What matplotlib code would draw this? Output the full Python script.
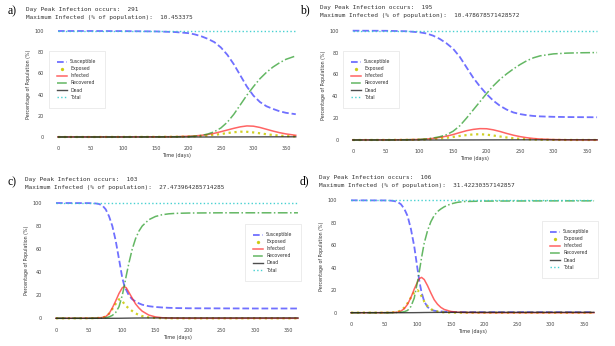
import matplotlib
matplotlib.use("Agg")
import matplotlib.pyplot as plt
from matplotlib.lines import Line2D

# ---- data (percent of population) ----
days_a = [0, 50, 100, 150, 180, 200, 210, 220, 230, 240, 250, 260, 270, 280, 290, 300, 310, 320, 330, 340, 350, 365]
S_a = [100, 100, 99.9, 99.6, 99.0, 98.0, 96.8, 95.0, 92.6, 89.5, 84.5, 77.5, 68.5, 58.0, 47.5, 39.0, 33.0, 29.0, 26.5, 24.3, 22.8, 21.5]
E_a = [0, 0, 0.05, 0.1, 0.2, 0.4, 0.6, 0.9, 1.4, 2.0, 2.8, 3.7, 4.5, 5.0, 4.9, 4.3, 3.5, 2.6, 1.9, 1.3, 0.9, 0.5]
I_a = [0.1, 0.1, 0.1, 0.2, 0.3, 0.7, 1.0, 1.6, 2.4, 3.5, 5.0, 6.6, 8.2, 9.6, 10.45, 10.2, 9.0, 7.3, 5.6, 4.1, 2.9, 1.6]
R_a = [0, 0, 0, 0.1, 0.2, 0.3, 0.8, 1.5, 2.8, 5.0, 8.5, 14.0, 21.5, 30.5, 39.5, 47.5, 55.0, 61.0, 66.0, 70.0, 73.3, 76.5]
D_a = [0, 0, 0, 0, 0, 0, 0, 0, 0, 0.02, 0.03, 0.05, 0.06, 0.08, 0.1, 0.12, 0.13, 0.15, 0.16, 0.17, 0.18, 0.18]

days_b = [0, 50, 80, 100, 110, 120, 130, 140, 150, 160, 170, 180, 190, 200, 210, 220, 230, 240, 250, 260, 270, 280, 300, 320, 340, 365]
S_b = [100, 99.9, 99.5, 98.5, 97.5, 95.5, 92.5, 88.5, 83.5, 76.0, 66.5, 57.0, 49.0, 42.0, 36.0, 31.3, 27.8, 25.2, 23.7, 22.7, 22.0, 21.6, 21.2, 21.0, 20.9, 20.8]
E_b = [0, 0.05, 0.15, 0.3, 0.55, 0.9, 1.4, 2.0, 2.8, 3.7, 4.5, 5.1, 5.3, 4.9, 4.1, 3.2, 2.3, 1.6, 1.1, 0.7, 0.45, 0.3, 0.1, 0.05, 0.02, 0.01]
I_b = [0.1, 0.15, 0.3, 0.5, 0.9, 1.5, 2.4, 3.5, 5.0, 6.8, 8.5, 9.7, 10.4, 10.3, 9.3, 7.8, 6.0, 4.4, 3.1, 2.1, 1.4, 0.9, 0.4, 0.2, 0.1, 0.05]
R_b = [0, 0.05, 0.2, 0.5, 1.0, 1.8, 3.0, 4.8, 8.0, 13.0, 20.0, 27.5, 35.0, 42.5, 49.5, 55.5, 60.5, 65.0, 69.0, 72.5, 75.2, 77.0, 78.8, 79.5, 79.8, 80.0]
D_b = [0, 0, 0, 0, 0, 0, 0, 0.01, 0.02, 0.03, 0.05, 0.06, 0.08, 0.1, 0.11, 0.13, 0.14, 0.15, 0.16, 0.16, 0.17, 0.17, 0.17, 0.17, 0.17, 0.17]

days_c = [0, 50, 60, 65, 70, 75, 80, 85, 90, 95, 100, 103, 106, 110, 115, 120, 125, 130, 140, 150, 160, 170, 180, 200, 250, 300, 365]
S_c = [100, 99.9, 99.6, 99.1, 97.8, 94.5, 88.5, 80.0, 67.5, 51.5, 35.0, 28.5, 24.5, 19.8, 16.5, 14.6, 13.0, 11.8, 10.5, 9.8, 9.4, 9.1, 8.9, 8.7, 8.6, 8.5, 8.5]
E_c = [0, 0.05, 0.2, 0.35, 0.6, 1.5, 4.0, 8.0, 12.5, 16.5, 15.0, 12.5, 10.5, 8.5, 6.3, 4.3, 2.9, 1.9, 0.8, 0.3, 0.1, 0.05, 0, 0, 0, 0, 0]
I_c = [0, 0.05, 0.2, 0.4, 0.7, 1.5, 4.0, 9.0, 15.0, 21.5, 26.5, 27.5, 26.5, 22.5, 17.5, 12.5, 9.0, 6.2, 2.8, 1.2, 0.5, 0.2, 0.1, 0, 0, 0, 0]
R_c = [0, 0, 0.05, 0.1, 0.2, 0.5, 1.2, 2.5, 5.0, 10.0, 20.0, 28.0, 37.0, 48.0, 60.0, 69.0, 75.5, 80.0, 85.5, 88.3, 89.8, 90.6, 91.0, 91.3, 91.5, 91.5, 91.5]
D_c = [0, 0, 0, 0, 0, 0, 0, 0.01, 0.02, 0.04, 0.07, 0.1, 0.13, 0.16, 0.2, 0.23, 0.25, 0.27, 0.29, 0.3, 0.3, 0.3, 0.3, 0.3, 0.3, 0.3, 0.3]

days_d = [0, 50, 60, 65, 70, 75, 80, 85, 90, 95, 100, 103, 106, 110, 115, 120, 125, 130, 135, 140, 150, 160, 170, 200, 250, 300, 365]
S_d = [100, 99.9, 99.7, 99.3, 98.5, 96.5, 92.5, 86.0, 74.5, 59.0, 38.5, 27.0, 18.0, 10.0, 5.0, 2.8, 1.8, 1.3, 1.1, 0.9, 0.7, 0.6, 0.55, 0.5, 0.5, 0.5, 0.5]
E_d = [0, 0.05, 0.2, 0.4, 0.8, 2.0, 4.5, 8.5, 13.5, 18.0, 20.0, 18.0, 14.5, 10.0, 5.8, 3.2, 1.8, 1.0, 0.55, 0.3, 0.1, 0.03, 0, 0, 0, 0, 0]
I_d = [0, 0.05, 0.15, 0.3, 0.5, 1.5, 3.5, 7.5, 13.5, 21.0, 27.5, 30.5, 31.4, 29.5, 24.0, 17.5, 11.5, 7.5, 4.7, 2.9, 1.1, 0.4, 0.15, 0, 0, 0, 0]
R_d = [0, 0, 0.05, 0.1, 0.2, 0.4, 0.9, 2.0, 5.5, 13.0, 28.0, 38.0, 49.0, 62.0, 73.0, 81.0, 86.5, 90.0, 92.3, 94.2, 96.8, 98.2, 98.9, 99.3, 99.4, 99.5, 99.5]
D_d = [0, 0, 0, 0, 0, 0, 0, 0.01, 0.02, 0.04, 0.08, 0.1, 0.13, 0.17, 0.2, 0.23, 0.25, 0.27, 0.28, 0.29, 0.3, 0.3, 0.3, 0.3, 0.3, 0.3, 0.3]

total_days = [0, 365]
total_pct = [100, 100]

peak_day = ["291", "195", "103", "106"]
peak_val = ["10.453375", "10.478678571428572", "27.473964285714285", "31.42230357142857"]
panel_tags = ["a)", "b)", "c)", "d)"]
xticks = [0, 50, 100, 150, 200, 250, 300, 350]
yticks = [0, 20, 40, 60, 80, 100]

W, H = 615, 346
fig = plt.figure(figsize=(W / 100, H / 100), dpi=100)

# pixel geometry per panel: x of day 0, x of day 350, y of 100 %, y of 0 %
geom = [(58, 286, 31, 137), (352.7, 587, 30.7, 140), (56, 288, 203, 318.3), (351, 584, 200.3, 312.7)]
head_xy = [(26, 9), (320, 7), (25, 179), (319, 177)]
tag_xy = [(8, 11), (300, 10), (8, 182), (300, 181)]
legend_xy = [(49, 51), (343, 51), (245, 224), (542, 221)]

panels = [
    (days_a, S_a, E_a, I_a, R_a, D_a),
    (days_b, S_b, E_b, I_b, R_b, D_b),
    (days_c, S_c, E_c, I_c, R_c, D_c),
    (days_d, S_d, E_d, I_d, R_d, D_d),
]

# line styles: colour, linestyle, width, alpha
sty_S = dict(color="#3333ff", ls="--", lw=1.3, alpha=0.7)
sty_E = dict(color="#c8c800", ls=":", lw=1.6, alpha=0.85)
sty_I = dict(color="#ff2222", ls="-", lw=1.1, alpha=0.7)
sty_R = dict(color="#229922", ls="-.", lw=1.1, alpha=0.7)
sty_D = dict(color="#222222", ls="-", lw=1.0, alpha=0.8)
sty_T = dict(color="#33cccc", ls=":", lw=1.0, alpha=0.9)

xl = (-18.25, 383.25)
yl = (-5, 105)
tick_col = "#444444"

for k, (t, S, E, I, R, D) in enumerate(panels):
    x0, x350, y100, y0 = geom[k]
    ppd = (x350 - x0) / 350
    ppp = (y0 - y100) / 100
    left = x0 + xl[0] * ppd
    right = x0 + xl[1] * ppd
    top = y0 - yl[1] * ppp
    bottom = y0 - yl[0] * ppp
    ax = fig.add_axes([left / W, 1 - bottom / H, (right - left) / W, (bottom - top) / H])

    ax.plot(t, S, **sty_S)
    ax.plot(t, E, **sty_E)
    ax.plot(t, I, **sty_I)
    ax.plot(t, R, **sty_R)
    ax.plot(t, D, **sty_D)
    ax.plot(total_days, total_pct, **sty_T)

    ax.set_xlim(xl)
    ax.set_ylim(yl)
    ax.set_xticks(xticks)
    ax.set_yticks(yticks)
    for s in ax.spines.values():
        s.set_visible(False)
    ax.tick_params(length=0, labelsize=3.5, labelcolor=tick_col)
    ax.tick_params(axis="x", pad=2.7)
    ax.tick_params(axis="y", pad=1.5)
    ax.set_xlabel("Time (days)", fontsize=3.5, color="#333333", labelpad=1.5)
    ax.set_ylabel("Percentage of Population (%)", fontsize=3.4, color="#333333", labelpad=2.5)

    handles = [
        Line2D([], [], **sty_S),
        Line2D([], [], color=sty_E["color"], ls="None", marker=".", markersize=2.8, alpha=0.85),
        Line2D([], [], **sty_I),
        Line2D([], [], **sty_R),
        Line2D([], [], **sty_D),
        Line2D([], [], **sty_T),
    ]
    lx, ly = legend_xy[k]
    leg = ax.legend(handles, ["Susceptible", "Exposed", "Infected", "Recovered", "Dead", "Total"],
                    loc="upper left", bbox_to_anchor=(lx / W, 1 - ly / H),
                    bbox_transform=fig.transFigure, borderaxespad=0,
                    fontsize=3.3, borderpad=1.8, labelspacing=0.45,
                    handlelength=2.2, handletextpad=0.6, fancybox=False)
    leg.get_frame().set_edgecolor("#dddddd")
    leg.get_frame().set_linewidth(0.5)
    for txt in leg.get_texts():
        txt.set_color("#333333")

    hx, hy = head_xy[k]
    fig.text(hx / W, 1 - hy / H, "Day Peak Infection occurs:  " + peak_day[k],
             family="DejaVu Sans Mono", fontsize=4.3, color="#333333", va="center")
    fig.text(hx / W, 1 - (hy + 9) / H, "Maximum Infected (% of population):  " + peak_val[k],
             family="DejaVu Sans Mono", fontsize=4.3, color="#333333", va="center")
    tx, ty = tag_xy[k]
    fig.text(tx / W, 1 - ty / H, panel_tags[k], family="Liberation Serif", fontsize=8.5,
             color="black", va="center")

fig.savefig("out.png", dpi=100, facecolor="white")
